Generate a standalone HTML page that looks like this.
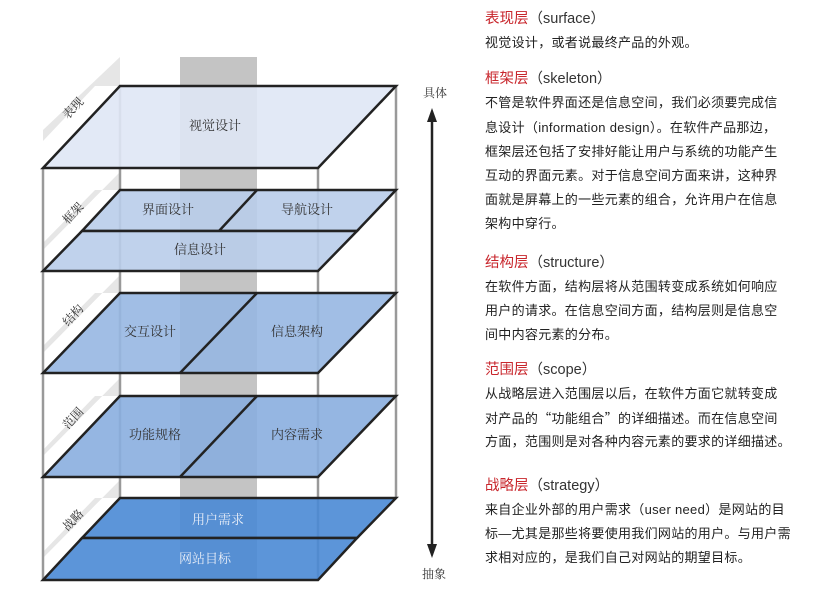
<!DOCTYPE html>
<html><head><meta charset="utf-8"><style>
body{margin:0;background:#fff;width:818px;height:590px;overflow:hidden;position:relative;font-family:"Liberation Sans","Noto Sans CJK SC",sans-serif;}
.t{position:absolute;left:485px;font-size:13px;color:#222;white-space:nowrap;letter-spacing:0.3px;line-height:16px}
.h{position:absolute;left:485px;font-size:14.5px;color:#333;white-space:nowrap;line-height:18px}
.h b{color:#c8262c;font-weight:normal}
.q{font-family:"Noto Sans CJK SC",sans-serif}
</style></head><body>
<svg width="470" height="590" style="position:absolute;left:0;top:0" font-family="Liberation Sans, Noto Serif CJK SC, Noto Sans CJK SC, sans-serif">
<rect x="180" y="57" width="77" height="523" fill="#c4c4c4"/>
<g fill="#e6e6e6">
<polygon points="43,141 95,86 120,86 120,57 43,130"/>
<polygon points="43,243 95,190 120,190 120,172 43,250"/>
<polygon points="43,346 95,293 120,293 120,275 43,353"/>
<polygon points="43,450 95,396 120,396 120,378 43,456"/>
<polygon points="43,552 95,498 120,498 120,480 43,558"/>
</g>
<g stroke="#999" stroke-width="2.5"><line x1="43" y1="168" x2="43" y2="580"/><line x1="396" y1="86" x2="396" y2="498"/><line x1="120" y1="86" x2="120" y2="498"/><line x1="318" y1="168" x2="318" y2="580"/></g>
<g stroke="#222" stroke-width="2.5" stroke-linejoin="miter">
<polygon points="120,86 396,86 318,168 43,168" fill="#dfe7f5" fill-opacity="0.9"/>
<polygon points="120,190 396,190 357,231 82,231" fill="#b9cdea" fill-opacity="0.9"/>
<polygon points="82,231 357,231 318,271 43,271" fill="#b9cdea" fill-opacity="0.9"/>
<line x1="257" y1="190" x2="219" y2="231"/>
<polygon points="120,293 396,293 318,373 43,373" fill="#97b7e2" fill-opacity="0.9"/>
<line x1="257" y1="293" x2="180" y2="373"/>
<polygon points="120,396 396,396 318,477 43,477" fill="#8aaedf" fill-opacity="0.9"/>
<line x1="257" y1="396" x2="180" y2="477"/>
<polygon points="120,498 396,498 357,538 82,538" fill="#4a8ad5" fill-opacity="0.9"/>
<polygon points="82,538 357,538 318,580 43,580" fill="#4a8ad5" fill-opacity="0.9"/>
</g>
<g font-size="13" fill="#333" text-anchor="middle">
<text x="215" y="130">视觉设计</text>
<text x="168" y="214">界面设计</text><text x="307" y="214">导航设计</text>
<text x="200" y="254">信息设计</text>
<text x="150" y="336">交互设计</text><text x="297" y="336">信息架构</text>
<text x="155" y="439">功能规格</text><text x="297" y="439">内容需求</text>
<text x="218" y="524" fill="#e8eef8">用户需求</text><text x="205" y="563" fill="#e8eef8">网站目标</text>
</g>
<g font-size="12" fill="#333" text-anchor="middle">
<text transform="translate(76,111) rotate(-47)">表现</text>
<text transform="translate(76,216) rotate(-47)">框架</text>
<text transform="translate(76,318) rotate(-47)">结构</text>
<text transform="translate(76,421) rotate(-47)">范围</text>
<text transform="translate(76,523) rotate(-47)">战略</text>
<text x="435" y="97">具体</text><text x="434" y="578">抽象</text>
</g>
<line x1="432" y1="118" x2="432" y2="548" stroke="#222" stroke-width="2.5"/>
<polygon points="432,108 427,122 437,122" fill="#222"/>
<polygon points="432,558 427,544 437,544" fill="#222"/>
</svg>
<div class="h" style="top:10px"><b>表现层</b>（surface）</div>
<div class="t" style="top:35px">视觉设计，或者说最终产品的外观。</div>
<div class="h" style="top:70px"><b>框架层</b>（skeleton）</div>
<div class="t" style="top:95px">不管是软件界面还是信息空间，我们必须要完成信</div>
<div class="t" style="top:120px">息设计（information design）。在软件产品那边，</div>
<div class="t" style="top:144px">框架层还包括了安排好能让用户与系统的功能产生</div>
<div class="t" style="top:168px">互动的界面元素。对于信息空间方面来讲，这种界</div>
<div class="t" style="top:192px">面就是屏幕上的一些元素的组合，允许用户在信息</div>
<div class="t" style="top:216px">架构中穿行。</div>
<div class="h" style="top:254px"><b>结构层</b>（structure）</div>
<div class="t" style="top:279px">在软件方面，结构层将从范围转变成系统如何响应</div>
<div class="t" style="top:303px">用户的请求。在信息空间方面，结构层则是信息空</div>
<div class="t" style="top:327px">间中内容元素的分布。</div>
<div class="h" style="top:361px"><b>范围层</b>（scope）</div>
<div class="t" style="top:386px">从战略层进入范围层以后，在软件方面它就转变成</div>
<div class="t" style="top:410px">对产品的<span class="q">“</span>功能组合<span class="q">”</span>的详细描述。而在信息空间</div>
<div class="t" style="top:434px">方面，范围则是对各种内容元素的要求的详细描述。</div>
<div class="h" style="top:477px"><b>战略层</b>（strategy）</div>
<div class="t" style="top:502px">来自企业外部的用户需求（user need）是网站的目</div>
<div class="t" style="top:526px">标—尤其是那些将要使用我们网站的用户。与用户需</div>
<div class="t" style="top:550px">求相对应的，是我们自己对网站的期望目标。</div>
</body></html>
